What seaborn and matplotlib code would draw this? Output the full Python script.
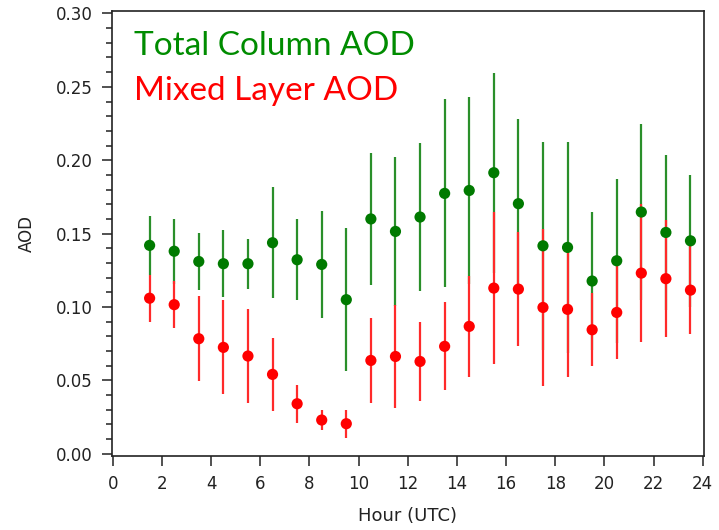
import numpy as np
import pandas as pd
import matplotlib
matplotlib.use("Agg")
import matplotlib.pyplot as plt
from matplotlib.ticker import MultipleLocator, FixedLocator, FormatStrFormatter
import seaborn as sns

# Hourly mean AOD and standard deviation
hours = [1.5, 2.5, 3.5, 4.5, 5.5, 6.5, 7.5, 8.5, 9.5, 10.5, 11.5, 12.5,
         13.5, 14.5, 15.5, 16.5, 17.5, 18.5, 19.5, 20.5, 21.5, 22.5, 23.5]

total_mean = [0.142, 0.138, 0.131, 0.1295, 0.1295, 0.1438, 0.1322, 0.129, 0.105,
              0.160, 0.1515, 0.1613, 0.1774, 0.1794, 0.1915, 0.1704, 0.1417,
              0.1406, 0.1177, 0.1315, 0.1647, 0.1508, 0.1451]
total_std = [0.020, 0.022, 0.0195, 0.023, 0.017, 0.038, 0.0275, 0.0365, 0.0485,
             0.045, 0.051, 0.0505, 0.064, 0.064, 0.068, 0.058, 0.071,
             0.072, 0.047, 0.056, 0.060, 0.053, 0.045]

mixed_mean = [0.106, 0.1016, 0.0784, 0.0725, 0.0666, 0.0541, 0.0341, 0.023, 0.0205,
              0.0636, 0.0663, 0.0629, 0.0732, 0.0868, 0.1129, 0.1122, 0.0997,
              0.0984, 0.0845, 0.0963, 0.1231, 0.1193, 0.1115]
mixed_std = [0.016, 0.016, 0.029, 0.032, 0.032, 0.025, 0.013, 0.007, 0.0095,
             0.029, 0.035, 0.027, 0.030, 0.0345, 0.052, 0.039, 0.0535,
             0.046, 0.025, 0.0315, 0.047, 0.040, 0.030]

series_names = ["Total Column AOD", "Mixed Layer AOD"]
series_colors = {"Total Column AOD": "#007a00", "Mixed Layer AOD": "#ff0000"}
bar_colors = {"Total Column AOD": "#2a8f2a", "Mixed Layer AOD": "#ff2a2a"}
title_colors = {"Total Column AOD": "#008c00", "Mixed Layer AOD": "#ff0000"}

df = pd.concat([
    pd.DataFrame({"hour": hours, "aod": total_mean, "std": total_std,
                  "series": series_names[0]}),
    pd.DataFrame({"hour": hours, "aod": mixed_mean, "std": mixed_std,
                  "series": series_names[1]}),
], ignore_index=True)

sns.set_theme(style="ticks")
plt.rcParams["font.family"] = ["DejaVu Sans"]

fig = plt.figure(figsize=(7.19, 5.30), dpi=100)
ax = fig.add_axes([112 / 719, 1 - 456 / 530, (704 - 112) / 719, (456 - 10.5) / 530])

# error bars first, then the markers on top
for name in series_names:
    sub = df[df["series"] == name]
    ax.errorbar(sub["hour"], sub["aod"], yerr=sub["std"], fmt="none",
                ecolor=bar_colors[name], elinewidth=1.6, capsize=0, zorder=2)

sns.scatterplot(data=df, x="hour", y="aod", hue="series", palette=series_colors,
                hue_order=series_names, marker="o", s=65, linewidth=0,
                legend=False, ax=ax, zorder=3)

ax.set_xlim(-0.03, 24.05)
ax.set_ylim(-0.0015, 0.302)
ax.xaxis.set_major_locator(MultipleLocator(2))
ax.yaxis.set_major_locator(MultipleLocator(0.05))
minor_y = [s / 100 for s in range(0, 31) if s % 5 != 0]
ax.yaxis.set_minor_locator(FixedLocator(minor_y))
ax.yaxis.set_major_formatter(FormatStrFormatter("%.2f"))

ax.tick_params(axis="both", which="major", length=7, width=1.1, color="#222222",
               labelsize=12, labelcolor="#222222", pad=7)
ax.tick_params(axis="y", which="minor", left=True, length=4, width=1.1,
               color="#222222")

for sp in ax.spines.values():
    sp.set_visible(True)
    sp.set_linewidth(1.2)
    sp.set_color("#222222")

ax.set_xlabel("Hour (UTC)", fontsize=13, color="#222222", labelpad=10)
ax.set_ylabel("AOD", fontsize=12, color="#222222", labelpad=14)

for name, ypos in zip(series_names, [0.900, 0.799]):
    ax.text(0.038, ypos, name, transform=ax.transAxes, color=title_colors[name],
            fontsize=24, family=["Lato", "DejaVu Sans"], va="baseline", ha="left")

fig.savefig("out.png", dpi=100, facecolor="white")
